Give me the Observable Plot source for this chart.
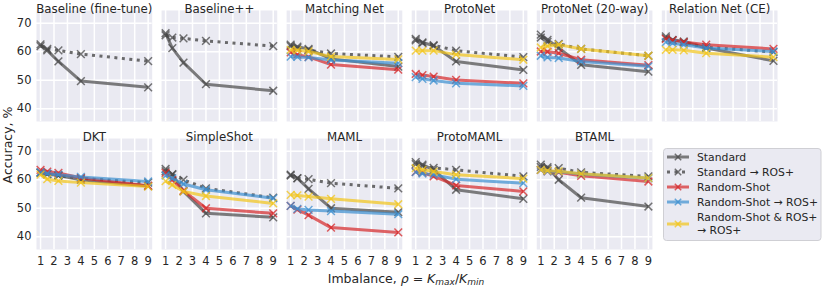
<!DOCTYPE html>
<html><head><meta charset="utf-8">
<script src="https://cdn.jsdelivr.net/npm/d3@7"></script>
<script src="https://cdn.jsdelivr.net/npm/@observablehq/plot@0.6"></script>
<style>
body{margin:0;background:#fff;font-family:"DejaVu Sans",sans-serif;color:#262626;}
#wrap{position:relative;width:822px;height:288px;overflow:hidden;}
#wrap svg{display:block;}
.ylab{position:absolute;left:7px;top:145px;transform:translate(-50%,-50%) rotate(-90deg);font-size:12.5px;white-space:nowrap;}
.xlab{position:absolute;left:406px;top:272px;transform:translateX(-50%);font-size:12.5px;white-space:nowrap;line-height:13px;}
.xlab sub{font-size:9px;vertical-align:-2px;line-height:0;}
#legend{position:absolute;left:663px;top:148px;}
</style></head><body>
<div id="wrap"></div>
<script>
const methods = ["Baseline (fine-tune)","Baseline++","Matching Net","ProtoNet","ProtoNet (20-way)","Relation Net (CE)","DKT","SimpleShot","MAML","ProtoMAML","BTAML"];
const imbalance = [1, 1.5, 2.33, 4, 9];
const xTicks = [1,2,3,4,5,6,7,8,9];
const yTicks = [40,50,60,70];
const seriesNames = ["Standard","Standard \u2192 ROS+","Random-Shot","Random-Shot \u2192 ROS+","Random-Shot & ROS+ \u2192 ROS+"];
const seriesColors = ["#484848","#484848","#d62728","#3b8fd0","#f2c418"];

const standard = [
  [62.6,60.5,56.6,49.7,47.5],
  [66.5,61.3,56.2,48.6,46.3],
  [62.5,61.8,61.0,57.5,54.8],
  [64.5,63.3,62.1,56.6,53.6],
  [66.0,64.2,61.3,55.4,53.0],
  [65.4,64.2,63.6,61.3,56.8],
  [62.5,62.0,61.5,60.0,57.8],
  [63.8,61.8,55.9,48.2,46.8],
  [61.8,60.6,56.8,50.0,48.6],
  [66.2,65.3,63.5,56.5,53.3],
  [65.3,64.4,60.0,53.7,50.6]
];
const standardROS = [
  [62.0,61.0,60.5,59.2,56.7],
  [65.8,65.0,64.7,63.8,62.0],
  [62.0,61.3,60.6,59.4,58.2],
  [64.0,63.0,62.3,60.4,58.1],
  [65.0,63.5,62.8,61.0,58.6],
  [64.8,64.0,63.2,61.6,59.9],
  [62.5,62.0,61.5,60.5,59.0],
  [63.0,62.0,60.0,57.0,53.7],
  [61.5,60.5,60.2,58.8,57.0],
  [65.5,64.8,64.2,63.5,61.2],
  [64.5,63.8,64.1,62.6,61.2]
];
const randomShot = [
  null,
  null,
  [59.8,59.0,58.2,55.5,53.7],
  [52.2,51.8,51.3,50.1,48.9],
  [60.1,60.0,59.5,57.2,55.3],
  [64.5,64.0,63.4,62.5,61.0],
  [63.5,62.9,62.4,60.6,57.9],
  [62.4,60.0,56.2,50.0,48.2],
  [50.8,49.5,47.6,43.2,41.5],
  [62.8,62.5,61.2,58.0,55.9],
  [63.5,63.0,62.6,61.4,59.4]
];
const randomShotROS = [
  null,
  null,
  [58.3,58.2,58.0,57.1,56.0],
  [51.1,50.5,49.9,48.9,48.0],
  [58.6,58.0,57.8,56.6,54.9],
  [63.4,63.0,62.5,61.3,60.1],
  [62.6,62.2,61.8,61.0,59.4],
  [61.5,60.5,58.5,56.5,53.5],
  [50.8,49.8,49.4,49.0,47.9],
  [62.7,62.2,61.8,60.2,58.8],
  [63.5,63.0,62.8,62.0,60.5]
];
const randomShotBoth = [
  null,
  null,
  [60.7,60.5,60.1,58.3,57.3],
  [60.4,60.4,60.4,59.0,57.2],
  [61.5,62.0,62.5,61.0,58.6],
  [60.7,60.7,60.5,59.5,58.1],
  [61.8,60.2,59.6,59.0,57.6],
  [59.5,58.2,55.9,54.3,51.7],
  [54.7,54.5,54.1,53.3,51.4],
  [64.1,63.5,62.9,61.8,60.4],
  [63.5,63.2,63.0,62.1,60.6]
];
const allSeries = [standard, standardROS, randomShot, randomShotROS, randomShotBoth];

const panels = methods.map((name, i) => ({name, col: i < 6 ? i : i - 6, row: i < 6 ? 0 : 1}));
function seriesData(arr, s) {
  const out = [];
  arr.forEach((vals, i) => {
    if (!vals) return;
    vals.forEach((v, j) => out.push({series: seriesNames[s], col: panels[i].col, row: panels[i].row, x: imbalance[j], y: v}));
  });
  return out;
}
const gridPanels = panels.flatMap(p => xTicks.map(t => ({...p, t})));
const gridPanelsY = panels.flatMap(p => yTicks.map(t => ({...p, t})));
const bottomTicks = gridPanels.filter(d => d.row === 1);

const marks = [
  Plot.frame({fill: "#EAEAF2", stroke: null}),
  Plot.ruleX(gridPanels, {x: "t", fx: "col", fy: "row", stroke: "white", strokeWidth: 1.5}),
  Plot.ruleY(gridPanelsY, {y: "t", fx: "col", fy: "row", stroke: "white", strokeWidth: 1.5}),
  Plot.axisY(yTicks, {tickSize: 0, tickPadding: 5, label: null, fontSize: 11.5, color: "#262626", fontFamily: "DejaVu Sans"}),
  Plot.text(bottomTicks, {x: "t", fx: "col", fy: "row", text: d => String(d.t), frameAnchor: "bottom", lineAnchor: "top", dy: 7, fontSize: 11.5, fill: "#262626", fontFamily: "DejaVu Sans"}),
  Plot.text(panels, {fx: "col", fy: "row", text: "name", frameAnchor: "top", dy: -5.5, fontSize: 11.8, fill: "#262626", fontFamily: "DejaVu Sans"})
];
allSeries.forEach((arr, s) => {
  const data = seriesData(arr, s);
  const col = seriesColors[s];
  const dotted = s === 1;
  marks.push(Plot.line(data, {
    x: "x", y: "y", fx: "col", fy: "row", z: d => d.col + "-" + d.row,
    stroke: col, strokeWidth: 3, strokeOpacity: dotted ? 0.8 : 0.7,
    strokeDasharray: dotted ? "3,4.5" : null, strokeLinecap: "butt"
  }));
  marks.push(Plot.dot(data, {
    x: "x", y: "y", fx: "col", fy: "row", symbol: "times", r: 3.6,
    stroke: col, strokeWidth: 1.5, strokeOpacity: 0.75
  }));
});

const chart = Plot.plot({
  width: 822, height: 288,
  marginLeft: 36, marginRight: 45, marginTop: 10, marginBottom: 39,
  style: {background: "transparent", fontFamily: "DejaVu Sans"},
  fx: {domain: d3.range(6), paddingInner: 0.075, paddingOuter: 0, round: false, axis: null},
  fy: {domain: [0, 1], paddingInner: 0.133, paddingOuter: 0, round: false, axis: null},
  x: {domain: [0.7, 9.3], axis: null},
  y: {domain: [35.5, 74.5], axis: null},
  marks
});
const wrap = document.getElementById("wrap");
wrap.appendChild(chart);

// axis titles
const yl = document.createElement("div");
yl.className = "ylab"; yl.textContent = "Accuracy, %";
wrap.appendChild(yl);
const xl = document.createElement("div");
xl.className = "xlab";
xl.innerHTML = 'Imbalance, <i>\u03c1</i> = <i>K</i><sub><i>max</i></sub>/<i>K</i><sub><i>min</i></sub>';
wrap.appendChild(xl);

// legend
const NS = "http://www.w3.org/2000/svg";
const lg = document.createElementNS(NS, "svg");
lg.setAttribute("id", "legend");
lg.setAttribute("width", 159); lg.setAttribute("height", 95);
function el(tag, attrs, parent) {
  const e = document.createElementNS(NS, tag);
  for (const k in attrs) e.setAttribute(k, attrs[k]);
  (parent || lg).appendChild(e);
  return e;
}
el("rect", {x: 0.5, y: 0.5, width: 157.5, height: 92, rx: 3, fill: "#EAEAF2", stroke: "#cfcfd4", "stroke-width": 1});
const rowsY = [9, 24, 39, 54, 76];
const fs = 10.8;
seriesNames.forEach((name, s) => {
  const yy = rowsY[s];
  el("line", {x1: 4, x2: 26, y1: yy, y2: yy, stroke: seriesColors[s], "stroke-width": 3,
    "stroke-opacity": s === 1 ? 0.8 : 0.7, "stroke-dasharray": s === 1 ? "3,4.5" : "none"});
  el("path", {d: `M${15-3.2},${yy-3.2}L${15+3.2},${yy+3.2}M${15-3.2},${yy+3.2}L${15+3.2},${yy-3.2}`,
    stroke: seriesColors[s], "stroke-width": 1.5, "stroke-opacity": 0.75, fill: "none"});
  if (s < 4) {
    const t = el("text", {x: 34, y: yy + 4, "font-size": fs, fill: "#262626", "font-family": "DejaVu Sans"});
    t.textContent = name;
  } else {
    const t1 = el("text", {x: 34, y: yy - 3, "font-size": fs, fill: "#262626", "font-family": "DejaVu Sans"});
    t1.textContent = "Random-Shot & ROS+";
    const t2 = el("text", {x: 34, y: yy + 10, "font-size": fs, fill: "#262626", "font-family": "DejaVu Sans"});
    t2.textContent = "\u2192 ROS+";
  }
});
wrap.appendChild(lg);
</script>
</body></html>
